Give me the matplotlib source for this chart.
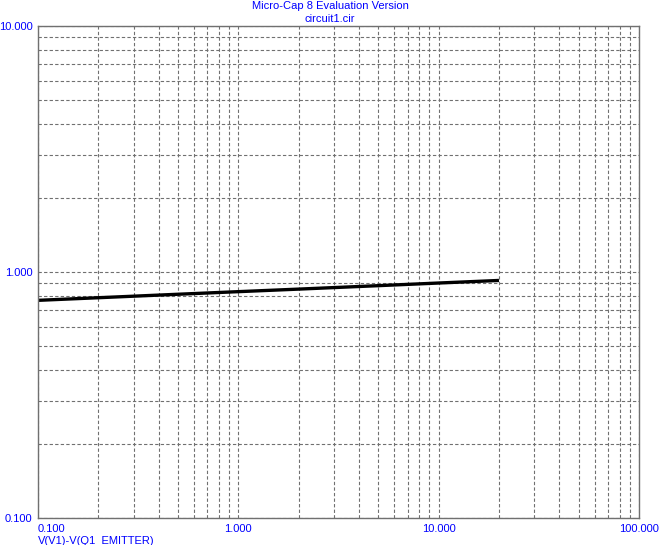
import matplotlib
matplotlib.use("Agg")
import matplotlib.pyplot as plt
from matplotlib.ticker import FixedLocator, FixedFormatter, LogLocator, NullFormatter

# curve (log-log)
vx = [0.1, 0.2, 0.5, 1.0, 2.0, 5.0, 10.0, 20.0]
vy = [0.767, 0.786, 0.812, 0.832, 0.852, 0.880, 0.902, 0.924]

xticks = [0.1, 1.0, 10.0, 100.0]
xlabels = ["0.100", "1.000", "10.000", "100.000"]
yticks = [0.1, 1.0, 10.0]
ylabels = ["0.100", "1.000", "10.000"]

title1 = "Micro-Cap 8 Evaluation Version"
title2 = "circuit1.cir"
xname = "V(V1)-V(Q1_EMITTER)"

blue = "#0000ff"
grey = "#707070"
plt.rcParams["font.family"] = ["Liberation Sans", "DejaVu Sans"]

fig = plt.figure(figsize=(6.61, 5.45), dpi=100)
W, H = 661.0, 545.0
ax = fig.add_axes([38 / W, (H - 518) / H, 601 / W, 492 / H])

ax.plot(vx, vy, color="black", lw=2.4, solid_capstyle="butt")

ax.set_xscale("log")
ax.set_yscale("log")
ax.set_xlim(0.1, 100)
ax.set_ylim(0.1, 10)

ax.xaxis.set_major_locator(FixedLocator(xticks))
ax.xaxis.set_major_formatter(FixedFormatter(xlabels))
ax.yaxis.set_major_locator(FixedLocator(yticks))
ax.yaxis.set_major_formatter(FixedFormatter(ylabels))
for a in (ax.xaxis, ax.yaxis):
    a.set_minor_locator(LogLocator(base=10, subs=range(2, 10)))
    a.set_minor_formatter(NullFormatter())

ax.grid(True, which="both", color=grey, lw=0.8, ls=(0, (3, 2)))
ax.tick_params(which="both", length=0, colors=blue, labelsize=8)
ax.tick_params(axis="x", pad=4)
ax.tick_params(axis="y", pad=4)
for s in ax.spines.values():
    s.set_color(grey)
    s.set_linestyle((0, (1, 1)))
    s.set_linewidth(1.0)

fig.canvas.draw()
xl = ax.get_xticklabels()
xl[0].set_horizontalalignment("left")

fig.text(330 / W, 1 - 6 / H, title1, color=blue, fontsize=8, ha="center", va="center")
fig.text(330 / W, 1 - 19 / H, title2, color=blue, fontsize=8, ha="center", va="center")
fig.text(38 / W, 1 - 541 / H, xname, color=blue, fontsize=8, ha="left", va="center")

fig.savefig("out.png", dpi=100)
